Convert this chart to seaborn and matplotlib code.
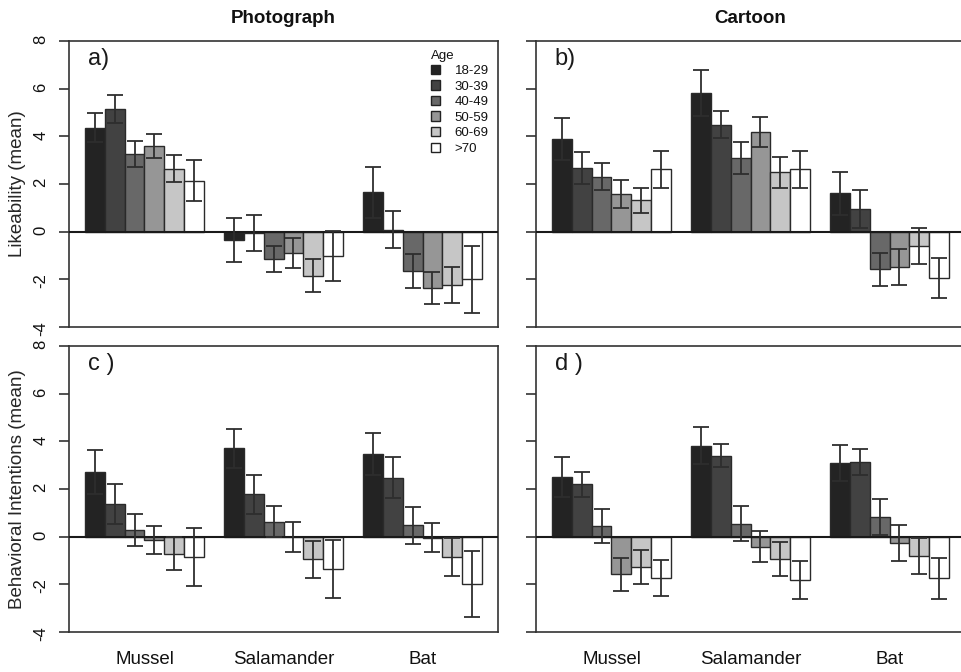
import numpy as np
import pandas as pd
import matplotlib
matplotlib.use("Agg")
import matplotlib.pyplot as plt
from matplotlib.patches import Patch
import seaborn as sns

# ---------------- data ----------------
animals = ["Mussel", "Salamander", "Bat"]
ages = ["18-29", "30-39", "40-49", "50-59", "60-69", ">70"]
age_colors = ["#232323", "#424242", "#686868", "#969696", "#c6c6c6", "#ffffff"]

# rows: Mussel, Salamander, Bat ; columns: age groups
photo_like_mean = [[4.37, 5.15, 3.26, 3.59, 2.65, 2.13],
                   [-0.35, -0.07, -1.15, -0.90, -1.85, -1.02],
                   [1.66, 0.09, -1.64, -2.36, -2.24, -2.00]]
photo_like_err = [[0.60, 0.60, 0.54, 0.52, 0.57, 0.86],
                  [0.92, 0.76, 0.56, 0.62, 0.70, 1.06],
                  [1.07, 0.76, 0.72, 0.66, 0.75, 1.40]]

cartoon_like_mean = [[3.89, 2.67, 2.31, 1.58, 1.31, 2.62],
                     [5.83, 4.49, 3.09, 4.18, 2.49, 2.62],
                     [1.61, 0.94, -1.58, -1.47, -0.59, -1.96]]
cartoon_like_err = [[0.87, 0.69, 0.58, 0.57, 0.51, 0.78],
                    [0.97, 0.57, 0.68, 0.62, 0.65, 0.78],
                    [0.90, 0.80, 0.69, 0.75, 0.76, 0.84]]

photo_beh_mean = [[2.73, 1.37, 0.27, -0.15, -0.72, -0.87],
                  [3.71, 1.77, 0.63, -0.02, -0.95, -1.34],
                  [3.47, 2.48, 0.47, -0.04, -0.84, -1.97]]
photo_beh_err = [[0.92, 0.85, 0.67, 0.59, 0.69, 1.22],
                 [0.82, 0.82, 0.65, 0.62, 0.78, 1.22],
                 [0.88, 0.87, 0.76, 0.60, 0.79, 1.38]]

cartoon_beh_mean = [[2.50, 2.20, 0.46, -1.58, -1.27, -1.73],
                    [3.81, 3.40, 0.54, -0.42, -0.95, -1.83],
                    [3.10, 3.13, 0.82, -0.27, -0.81, -1.74]]
cartoon_beh_err = [[0.85, 0.53, 0.71, 0.69, 0.72, 0.76],
                   [0.78, 0.49, 0.73, 0.66, 0.72, 0.79],
                   [0.76, 0.56, 0.75, 0.74, 0.75, 0.86]]

col_titles = ["Photograph", "Cartoon"]
row_labels = ["Likeability (mean)", "Behavioral Intentions (mean)"]
panel_tags = ["a)", "b)", "c )", "d )"]
y_ticks = [-4, -2, 0, 2, 4, 6, 8]

# ---------------- style ----------------
sns.set_theme(style="white")
plt.rcParams["font.family"] = ["Liberation Sans", "DejaVu Sans"]
plt.rcParams["axes.edgecolor"] = "#333333"
plt.rcParams["axes.linewidth"] = 1.2
plt.rcParams["text.color"] = "#111111"
plt.rcParams["xtick.color"] = "#111111"
plt.rcParams["ytick.color"] = "#111111"

fig = plt.figure(figsize=(9.61, 6.72), dpi=100)
W, H = 961.0, 672.0
ax_w, ax_h = 429 / W, 286 / H
positions = [
    [69 / W, 1 - 327 / H, ax_w, ax_h],
    [536 / W, 1 - 327 / H, ax_w, ax_h],
    [69 / W, 1 - 632 / H, ax_w, ax_h],
    [536 / W, 1 - 632 / H, ax_w, ax_h],
]
panels = [(photo_like_mean, photo_like_err), (cartoon_like_mean, cartoon_like_err),
          (photo_beh_mean, photo_beh_err), (cartoon_beh_mean, cartoon_beh_err)]

for i, (means, errs) in enumerate(panels):
    ax = fig.add_axes(positions[i])
    df = pd.DataFrame({
        "animal": np.repeat(animals, len(ages)),
        "age": ages * len(animals),
        "value": np.array(means).ravel(),
    })
    sns.barplot(data=df, x="animal", y="value", hue="age", order=animals,
                hue_order=ages, palette=age_colors, saturation=1,
                width=6 / 7, gap=0, errorbar=None, legend=False, ax=ax,
                edgecolor="#2a2a2a", linewidth=1.0, zorder=2)
    # error bars at bar centres
    bars = sorted(ax.patches, key=lambda p: p.get_x())
    xs = [b.get_x() + b.get_width() / 2 for b in bars]
    ax.errorbar(xs, np.array(means).ravel(), yerr=np.array(errs).ravel(),
                fmt="none", ecolor="#2e2e2e", elinewidth=1.3, capsize=6,
                capthick=1.3, zorder=4)
    ax.axhline(0, color="#1a1a1a", lw=1.5, zorder=3)

    ax.set_xlim(-0.5429, 2.5429)
    ax.set_ylim(-4, 8)
    ax.set_yticks(y_ticks)
    ax.set_yticklabels([str(t) for t in y_ticks])
    ax.tick_params(axis="y", length=7, width=1.2, color="#333333", pad=8,
                   labelsize=12, labelrotation=90, direction="out", left=True)
    ax.tick_params(axis="x", length=0, pad=14, labelsize=13.5)
    for s in ax.spines.values():
        s.set_visible(True)
        s.set_color("#333333")
        s.set_linewidth(1.2)
    ax.set_xlabel("")
    ax.set_ylabel("")
    if i % 2 == 1:
        ax.tick_params(axis="y", labelleft=False)
    else:
        ax.set_ylabel(row_labels[i // 2], fontsize=13.5)
        ax.yaxis.set_label_coords(-0.119, 0.5)
        ax.yaxis.label.set_verticalalignment("center")
    if i < 2:
        ax.tick_params(axis="x", labelbottom=False)
        ax.set_title(col_titles[i], fontsize=13.5, fontweight="bold", pad=13)
    ax.text(0.044, 0.975, panel_tags[i], transform=ax.transAxes,
            fontsize=17, ha="left", va="top", color="#1a1a1a")

    if i == 0:
        handles = [Patch(facecolor=c, edgecolor="#222222", linewidth=1.0)
                   for c in age_colors]
        ax.legend(handles, ages, title="Age", loc="upper left",
                  bbox_to_anchor=(0.844, 0.97), frameon=False, fontsize=9.5,
                  title_fontsize=9.5, handlelength=0.7, handleheight=0.7,
                  handletextpad=1.1, labelspacing=0.25, borderpad=0,
                  borderaxespad=0, alignment="left")

fig.savefig("out.png", dpi=100)
